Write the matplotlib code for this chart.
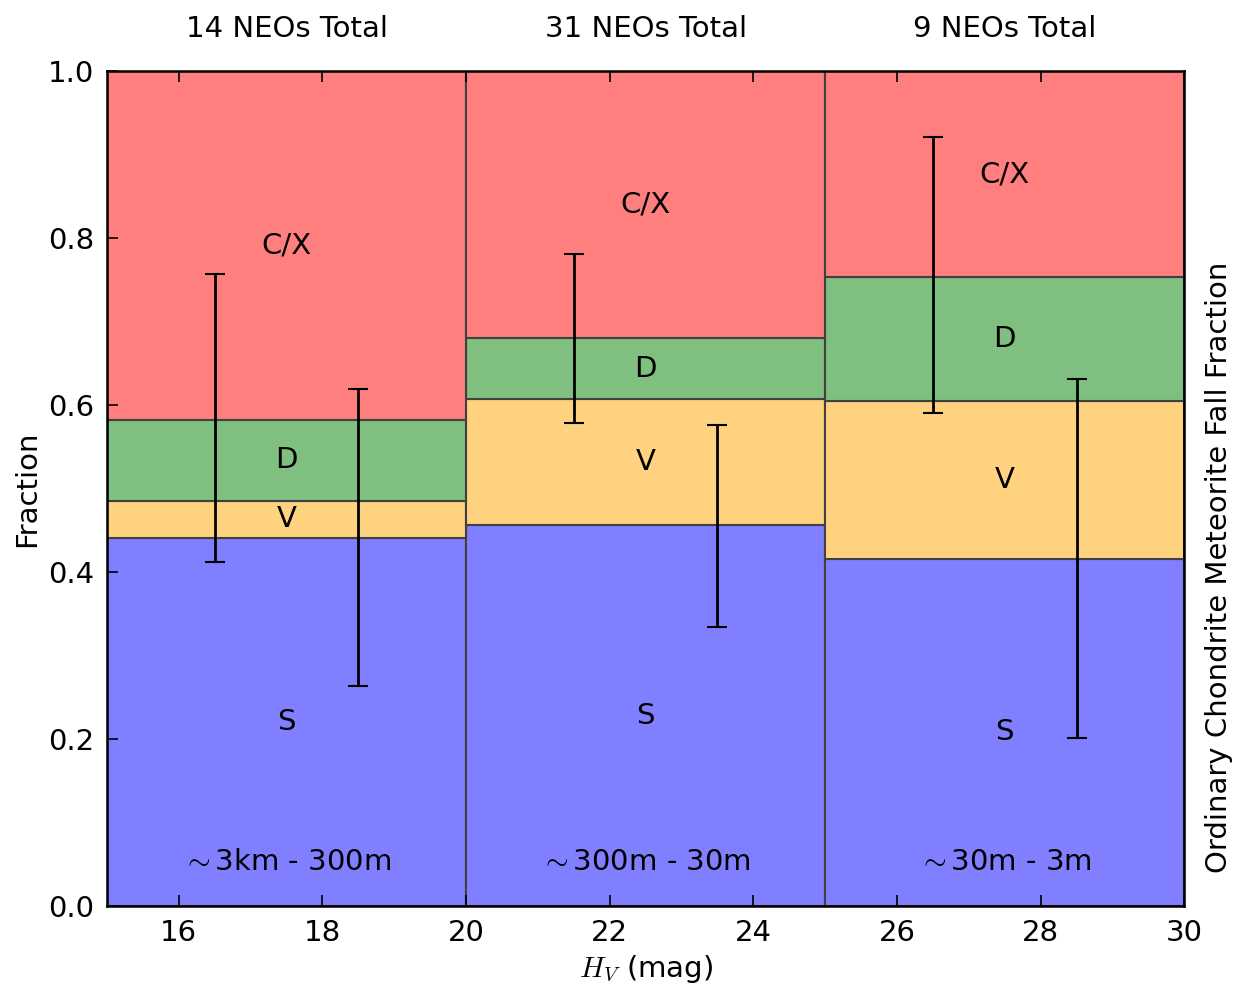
import matplotlib
matplotlib.use("Agg")
import matplotlib.pyplot as plt
import numpy as np

# bins in H_V magnitude
bin_edges = [15, 20, 25, 30]
n_total = [14, 31, 9]
size_labels = [r"$\sim$3km - 300m", r"$\sim$300m - 30m", r"$\sim$30m - 3m"]

# taxonomic fractions per bin (stacked bottom to top)
classes = ["S", "V", "D", "C/X"]
frac_S = [0.441, 0.456, 0.416]
frac_V = [0.044, 0.151, 0.189]
frac_D = [0.097, 0.073, 0.148]
frac_CX = [0.418, 0.320, 0.247]
colors = ["#7f7fff", "#ffd27f", "#7fbf7f", "#ff7f7f"]

# error bars (x position, lower, upper)
err_x = [16.5, 18.5, 21.5, 23.5, 26.5, 28.5]
err_lo = [0.412, 0.263, 0.578, 0.334, 0.590, 0.201]
err_hi = [0.757, 0.619, 0.781, 0.576, 0.921, 0.631]

plt.rcParams["font.family"] = "DejaVu Sans"
plt.rcParams["mathtext.fontset"] = "cm"
plt.rcParams["font.size"] = 21
fs = 21

fig = plt.figure(figsize=(12.49, 9.85), dpi=100)
ax = fig.add_axes([0.0857, 0.0802, 0.8625, 0.8478])

left = np.array(bin_edges[:-1], dtype=float)
width = np.diff(bin_edges)
centers = left + width / 2
bottom = np.zeros(len(left))
for name, vals, c in zip(classes, [frac_S, frac_V, frac_D, frac_CX], colors):
    vals = np.array(vals)
    ax.bar(left, vals, width=width, bottom=bottom, align="edge", color=c,
           edgecolor="#404040", linewidth=1.5)
    for xc, b, v in zip(centers, bottom, vals):
        ax.text(xc, b + v / 2, name, ha="center", va="center", fontsize=fs)
    bottom = bottom + vals

for xc, lab, n in zip(centers, size_labels, n_total):
    ax.text(xc, 0.053, lab, ha="center", va="center", fontsize=fs)
    ax.text(xc, 1.05, "%d NEOs Total" % n, ha="center", va="center", fontsize=fs)

err_x = np.array(err_x)
lo = np.array(err_lo)
hi = np.array(err_hi)
mid = (lo + hi) / 2
ax.errorbar(err_x, mid, yerr=[mid - lo, hi - mid], fmt="none", ecolor="black",
            elinewidth=2, capsize=7, capthick=1.5)

ax.set_xlim(15, 30)
ax.set_ylim(0, 1)
ax.set_xticks([16, 18, 20, 22, 24, 26, 28, 30])
ax.set_yticks([0.0, 0.2, 0.4, 0.6, 0.8, 1.0])
ax.set_yticklabels(["0.0", "0.2", "0.4", "0.6", "0.8", "1.0"])
ax.tick_params(direction="in", top=True, right=True, length=8, width=1.2, labelsize=fs, pad=9)
for s in ax.spines.values():
    s.set_linewidth(1.8)
ax.set_xlabel(r"$H_V$ (mag)", fontsize=fs, labelpad=5)
ax.set_ylabel("Fraction", fontsize=fs, labelpad=5)

ax2 = ax.twinx()
ax2.set_ylim(0, 1)
ax2.set_yticks([])
ax2.set_ylabel("Ordinary Chondrite Meteorite Fall Fraction", fontsize=fs, labelpad=15, y=0.405)

fig.savefig("out.png", dpi=100)
